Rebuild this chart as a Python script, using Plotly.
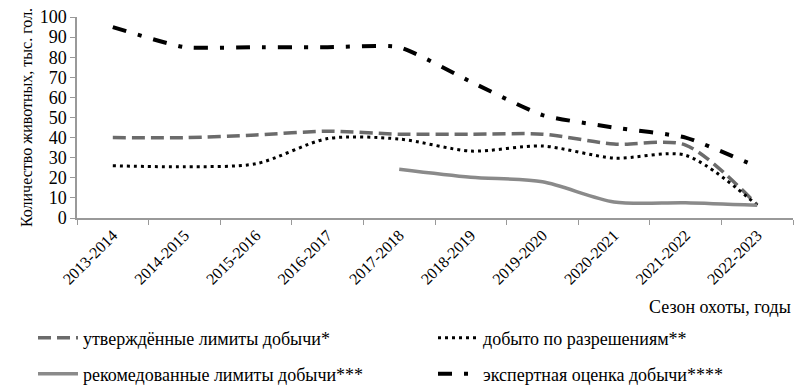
import plotly.graph_objects as go

seasons = ["2013-2014", "2014-2015", "2015-2016", "2016-2017", "2017-2018",
           "2018-2019", "2019-2020", "2020-2021", "2021-2022", "2022-2023"]
approved = [40, 40, 41.3, 43.2, 41.7, 41.7, 41.7, 36.8, 36.3, 6.5]
harvested = [26, 25.5, 27, 39.5, 39.3, 33.3, 35.8, 29.8, 31.2, 6.3]
recommended = [None, None, None, None, 24.3, 20.3, 18, 8, 7.6, 6.3]
expert = [95, 85, 85, 85, 85, 67.8, 51.2, 45, 40, 25.5]

names = ["утверждённые лимиты добычи*", "добыто по разрешениям**",
         "рекомедованные лимиты добычи***", "экспертная оценка добычи****"]

font_family = "Liberation Serif, Times New Roman, serif"

fig = go.Figure()
fig.add_trace(go.Scatter(x=seasons, y=approved, name=names[0], mode="lines", legend="legend",
                         line=dict(color="#6b6b6b", width=3.5, dash="13px,6px", shape="spline", smoothing=0.8)))
fig.add_trace(go.Scatter(x=seasons, y=harvested, name=names[1], mode="lines", legend="legend2",
                         line=dict(color="#000000", width=3, dash="3px,4px", shape="spline", smoothing=0.8)))
fig.add_trace(go.Scatter(x=seasons, y=recommended, name=names[2], mode="lines", legend="legend3",
                         line=dict(color="#8a8a8a", width=3.5, shape="spline", smoothing=0.8)))
fig.add_trace(go.Scatter(x=seasons, y=expert, name=names[3], mode="lines", legend="legend4",
                         line=dict(color="#000000", width=4, dash="14px,12px,4px,12px", shape="spline", smoothing=0.5)))

leg = dict(orientation="h", xref="container", yref="container", xanchor="left",
           yanchor="middle", font=dict(size=18), itemwidth=40, bgcolor="rgba(0,0,0,0)")

fig.update_layout(
    width=794, height=385,
    margin=dict(l=77, r=1, t=17, b=167, autoexpand=False),
    plot_bgcolor="white", paper_bgcolor="white",
    font=dict(family=font_family, size=16, color="#000000"),
    showlegend=True,
    legend=dict(leg, x=33 / 794, y=1 - 338 / 385),
    legend2=dict(leg, x=433 / 794, y=1 - 338 / 385),
    legend3=dict(leg, x=33 / 794, y=1 - 374 / 385),
    legend4=dict(leg, x=433 / 794, y=1 - 374 / 385),
)
fig.update_xaxes(type="category", range=[-0.5, 9.5], tickson="boundaries",
                 ticks="outside", ticklen=5, tickcolor="#999999", automargin=False,
                 showline=True, linecolor="#999999", linewidth=1.5,
                 showgrid=False, tickangle=-45, tickfont=dict(size=16))
fig.update_yaxes(range=[0, 100], dtick=10, ticks="outside", ticklen=5, tickcolor="#999999",
                 showline=True, linecolor="#999999", linewidth=1.5, showgrid=False,
                 zeroline=False, tickfont=dict(size=18), automargin=False,
                 title=dict(text="Количество животных, тыс. гол.", font=dict(size=16), standoff=3))
fig.add_annotation(text="Сезон охоты, годы", xref="paper", yref="paper", x=1, y=-(307 - 218) / 201,
                   xanchor="right", yanchor="middle", showarrow=False, font=dict(size=18))

fig.write_html("out.html", config={"displayModeBar": False},
               post_script="document.body.style.margin='0';")
